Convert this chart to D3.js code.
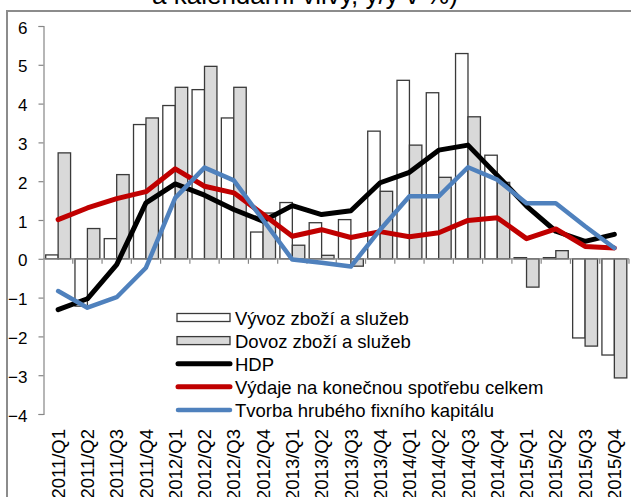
<!DOCTYPE html>
<html>
<head>
<meta charset="utf-8">
<script src="https://cdn.jsdelivr.net/npm/d3@7"></script>
<style>
  html, body { margin: 0; padding: 0; background: #fff; }
  svg text { font-family: "Liberation Sans", Arial, sans-serif; fill: #000; }
</style>
</head>
<body>
<svg id="chart" width="631" height="497"></svg>
<script>
// quarterly y/y growth contributions

const categories = [
    "2011/Q1", "2011/Q2", "2011/Q3", "2011/Q4",
    "2012/Q1", "2012/Q2", "2012/Q3", "2012/Q4",
    "2013/Q1", "2013/Q2", "2013/Q3", "2013/Q4",
    "2014/Q1", "2014/Q2", "2014/Q3", "2014/Q4",
    "2015/Q1", "2015/Q2", "2015/Q3", "2015/Q4"
];

const vyvoz    = [0.1, -1.22, 0.52, 3.46, 3.95, 4.36, 3.63, 0.69, 1.45, 0.93, 1.01, 3.29, 4.6, 4.28, 5.29, 2.67, 0.03, 0.03, -2.04, -2.48];
const dovoz    = [2.73, 0.78, 2.17, 3.63, 4.42, 4.96, 4.42, 1.18, 0.35, 0.09, -0.19, 1.74, 2.93, 2.1, 3.66, 1.97, -0.73, 0.21, -2.25, -3.07];
const hdp      = [-1.31, -1.03, -0.15, 1.44, 1.93, 1.64, 1.27, 0.97, 1.37, 1.14, 1.24, 1.96, 2.23, 2.8, 2.93, 2.15, 1.36, 0.71, 0.45, 0.63];
const spotreba = [1.01, 1.31, 1.55, 1.73, 2.32, 1.87, 1.7, 1.15, 0.58, 0.75, 0.55, 0.7, 0.57, 0.67, 0.99, 1.06, 0.52, 0.77, 0.32, 0.28];
const investice = [-0.83, -1.26, -0.99, -0.23, 1.57, 2.35, 2.02, 1.0, -0.02, -0.1, -0.2, 0.75, 1.61, 1.61, 2.36, 2.04, 1.43, 1.43, 0.84, 0.28];

const yTicks = [-4, -3, -2, -1, 0, 1, 2, 3, 4, 5, 6];

const titleText = "a kalendářní vlivy, y/y v %)";

const barSeries = [
    { key: "vyvoz", label: "Vývoz zboží a služeb", values: vyvoz, fill: "#ffffff" },
    { key: "dovoz", label: "Dovoz zboží a služeb", values: dovoz, fill: "#d9d9d9" }
];
const lineSeries = [
    { key: "hdp", label: "HDP", values: hdp, color: "#000000", width: 5 },
    { key: "spotreba", label: "Výdaje na konečnou spotřebu celkem", values: spotreba, color: "#c00000", width: 5 },
    { key: "investice", label: "Tvorba hrubého fixního kapitálu", values: investice, color: "#4f81bd", width: 4.5 }
];

const svg = d3.select("#chart");
const plot = { left: 43.5, right: 629, top: 26, bottom: 414 };
const axisColor = "#868686";

// cut-off title and outer frame
svg.append("text")
    .attr("x", 152).attr("y", 4)
    .attr("font-size", 26)
    .text(titleText);

svg.append("rect")
    .attr("x", 7).attr("y", 11)
    .attr("width", 700).attr("height", 600)
    .attr("fill", "none")
    .attr("stroke", "#8c8c8c").attr("stroke-width", 2);

const x = d3.scaleBand()
    .domain(categories)
    .range([plot.left, plot.right])
    .paddingInner(0.15)
    .paddingOuter(0.075);

const xSub = d3.scaleBand()
    .domain(barSeries.map(d => d.key))
    .range([0, x.bandwidth()]);

const y = d3.scaleLinear().domain([-4, 6]).range([plot.bottom, plot.top]);

const g = svg.append("g");

// y axis
const yAxisG = g.append("g")
    .attr("transform", `translate(${plot.left},0)`)
    .call(d3.axisLeft(y).tickValues(yTicks).tickSize(5).tickPadding(11).tickFormat(d3.format("d")));
yAxisG.select(".domain").attr("stroke", axisColor).attr("stroke-width", 1.2);
yAxisG.selectAll(".tick line").attr("stroke", axisColor).attr("stroke-width", 1.2);
yAxisG.selectAll(".tick text")
    .attr("font-size", 17)
    .attr("font-family", "Liberation Sans, Arial, sans-serif")
    .attr("fill", "#000")
    .attr("dy", "0.42em");

// bars
const barsG = g.append("g").attr("class", "bars");
barSeries.forEach(s => {
    barsG.selectAll(`rect.${s.key}`)
        .data(s.values.map((v, i) => ({ cat: categories[i], v })))
        .join("rect")
        .attr("class", s.key)
        .attr("x", d => x(d.cat) + xSub(s.key))
        .attr("width", xSub.bandwidth())
        .attr("y", d => y(Math.max(0, d.v)))
        .attr("height", d => Math.abs(y(d.v) - y(0)))
        .attr("fill", s.fill)
        .attr("stroke", "#3a3a3a")
        .attr("stroke-width", 1.3);
});

// category axis at zero, ticks between categories
const step = x.step();
const bounds = d3.range(categories.length + 1).map(i => plot.left + i * step);
const xAxisG = g.append("g").attr("class", "xaxis");
xAxisG.append("line")
    .attr("x1", plot.left).attr("x2", plot.right)
    .attr("y1", y(0)).attr("y2", y(0))
    .attr("stroke", axisColor).attr("stroke-width", 1.2);
xAxisG.selectAll("line.tick")
    .data(bounds.slice(1))
    .join("line")
    .attr("class", "tick")
    .attr("x1", d => d).attr("x2", d => d)
    .attr("y1", y(0)).attr("y2", y(0) + 5)
    .attr("stroke", axisColor).attr("stroke-width", 1.2);

// rotated labels sit below the plot (low position)
xAxisG.selectAll("text")
    .data(categories)
    .join("text")
    .attr("transform", d => `translate(${x(d) + x.bandwidth() / 2},429) rotate(-90)`)
    .attr("text-anchor", "end")
    .attr("dy", "0.36em")
    .attr("font-size", 18.5)
    .text(d => d);

// lines
const lineGen = d3.line()
    .x((d, i) => x(categories[i]) + x.bandwidth() / 2)
    .y(d => y(d));

const linesG = g.append("g").attr("class", "lines");
linesG.selectAll("path")
    .data(lineSeries)
    .join("path")
    .attr("fill", "none")
    .attr("stroke", d => d.color)
    .attr("stroke-width", d => d.width)
    .attr("stroke-linejoin", "round")
    .attr("stroke-linecap", "round")
    .attr("d", d => lineGen(d.values));

// legend
const legendRows = [...barSeries.map(d => ({ ...d, type: "bar" })), ...lineSeries.map(d => ({ ...d, type: "line" }))];
const legend = svg.append("g").attr("class", "legend").attr("transform", "translate(177,317.5)");
const rowH = 23.1;

const item = legend.selectAll("g.item")
    .data(legendRows)
    .join("g")
    .attr("class", "item")
    .attr("transform", (d, i) => `translate(0,${i * rowH})`);

item.filter(d => d.type === "bar").append("rect")
    .attr("x", 0).attr("y", -4)
    .attr("width", 53).attr("height", 8)
    .attr("fill", d => d.fill)
    .attr("stroke", "#3a3a3a").attr("stroke-width", 1.3);

item.filter(d => d.type === "line").append("line")
    .attr("x1", 1).attr("x2", 53)
    .attr("stroke", d => d.color)
    .attr("stroke-width", d => d.width)
    .attr("stroke-linecap", "round");

item.append("text")
    .attr("x", 58).attr("y", 7)
    .attr("font-size", 18.5)
    .text(d => d.label);
</script>
</body>
</html>
